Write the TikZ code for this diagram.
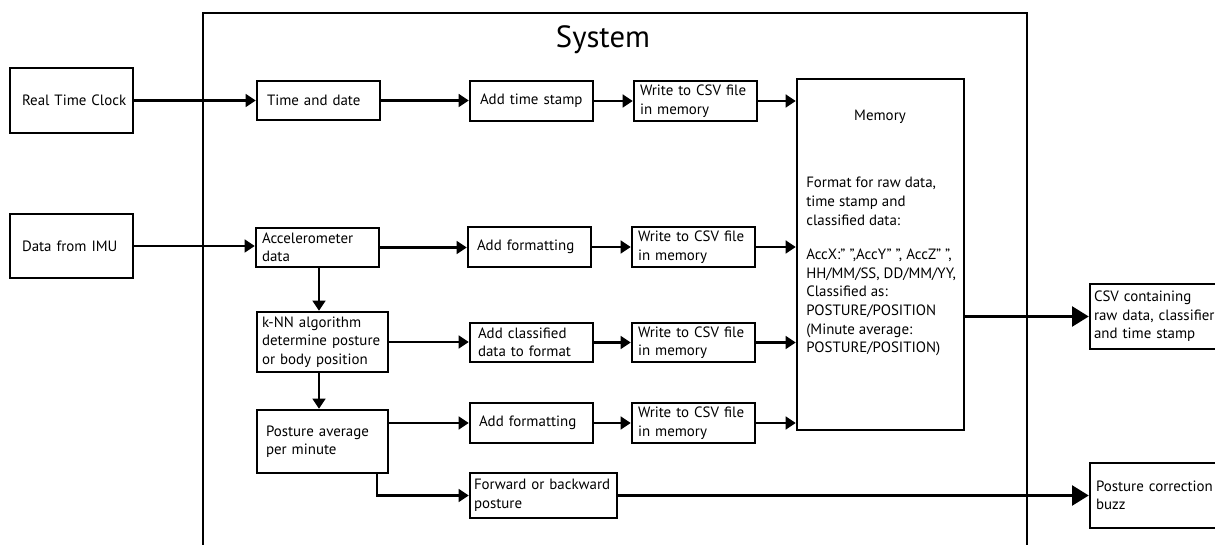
\documentclass[tikz,border=0pt]{standalone}
\usepackage{fontspec}
\setmainfont{PT Sans}
\usetikzlibrary{arrows.meta,calc}
\newcommand\mkbox[7]{%
 \pgfmathsetmacro\bxw{(#4-#2)*0.75}%
 \pgfmathsetmacro\bxh{(#5-#3)*0.75}%
 \pgfmathsetmacro\bxp{#6*0.75}%
 \pgfmathsetmacro\bxt{(#4-#2-2*#6)*0.75}%
 \node[blk,minimum width=\bxw pt,minimum height=\bxh pt,inner xsep=\bxp pt,text width=\bxt pt] (#1) at ({(#2+#4)/2},{(#3+#5)/2}) {#7};}
\begin{document}
\begin{tikzpicture}[x=0.75pt,y=-0.75pt,
 txt/.style={font=\fontsize{11.2}{13.9}\selectfont},
 blk/.style={draw,line width=1.9pt,align=left,inner ysep=0pt,txt},
 conn/.style={line width=1.8pt,-{Triangle[length=7.5pt,width=9.5pt]}},
 bigconn/.style={line width=1.8pt,-{Triangle[length=12.5pt,width=15pt]}},
 frame/.style={line width=1.6pt}]
\useasboundingbox (0,0) rectangle (1215,545);
\clip (0,0) rectangle (1215,545);
% system frame
\draw[frame] (203,600) -- (203,13) -- (1027,13) -- (1027,600);
\node[font=\fontsize{23}{27}\selectfont,anchor=base] (title) at (603,48) {System};
% outside boxes
\mkbox{rtc}{10}{68}{133}{133}{12}{\mbox{Real Time Clock}}
\mkbox{imu}{10}{214}{133}{278}{12}{\mbox{Data from IMU}}
% row 1
\mkbox{td}{257}{81}{380}{120}{10}{Time and date}
\mkbox{ats}{470}{81}{593}{121}{10}{Add time stamp}
\mkbox{w1}{634}{81}{757}{121}{6}{Write to CSV file\\in memory}
% row 2
\mkbox{acc}{256}{228}{379}{267}{6}{Accelerometer\\data}
\mkbox{af1}{468}{227}{591}{267}{9}{Add formatting}
\mkbox{w2}{632}{227}{755}{267}{6}{Write to CSV file\\in memory}
% row 3
\mkbox{knn}{257}{312}{388}{372}{5}{k-NN algorithm\\determine posture\\or body position}
\mkbox{acl}{470}{323}{593}{362}{8}{Add classified\\data to format}
\mkbox{w3}{632}{323}{755}{362}{6}{Write to CSV file\\in memory}
% row 4
\mkbox{pavg}{257}{410}{388}{473}{9}{Posture average\\per minute}
\mkbox{af2}{470}{403}{593}{443}{9}{Add formatting}
\mkbox{w4}{632}{403}{755}{443}{6}{Write to CSV file\\in memory}
% row 5
\mkbox{fwd}{470}{473}{617}{518}{4}{Forward or backward\\posture}
% memory
\node[blk,minimum width=125.25pt,minimum height=263.25pt] (mem) at (880.5,254.5) {};
\node[txt,anchor=base] (memtitle) at (880,121) {Memory};
\node[txt,font=\fontsize{11.2}{14}\selectfont,align=left,anchor=north west,inner sep=0pt] (memfmt) at (806,177)
 {Format for raw data,\\time stamp and\\classified data:\\[11.7pt]
  AccX:” ”,AccY” ”, AccZ” ”,\\HH/MM/SS, DD/MM/YY,\\Classified as:\\POSTURE/POSITION\\(Minute average:\\POSTURE/POSITION)};
% outputs
\mkbox{csv}{1090}{284}{1240}{349}{4}{CSV containing\\raw data, classifier\\and time stamp}
\mkbox{pc}{1090}{463}{1240}{528}{6}{Posture correction\\buzz}
% connectors
\coordinate (vx) at (319,0);
\draw[conn] (rtc.east) -- (rtc.east -| td.west);
\draw[conn] (td.east) -- (td.east -| ats.west);
\draw[conn] (ats.east) -- (ats.east -| w1.west);
\draw[conn] (w1.east) -- (w1.east -| mem.west);
\draw[conn] (imu.east) -- (imu.east -| acc.west);
\draw[conn] (acc.east) -- (acc.east -| af1.west);
\draw[conn] (af1.east) -- (af1.east -| w2.west);
\draw[conn] (w2.east) -- (w2.east -| mem.west);
\draw[conn] (vx |- acc.south) -- (vx |- knn.north);
\draw[conn] (knn.east) -- (knn.east -| acl.west);
\draw[conn] (acl.east) -- (acl.east -| w3.west);
\draw[conn] (w3.east) -- (w3.east -| mem.west);
\draw[conn] (vx |- knn.south) -- (vx |- pavg.north);
\draw[conn] (af2.west -| pavg.east) -- (af2.west);
\draw[conn] (af2.east) -- (af2.east -| w4.west);
\draw[conn] (w4.east) -- (w4.east -| mem.west);
\draw[conn] ($(pavg.south east)+(-12,0)$) |- (fwd.west);
\draw[bigconn] (fwd.east) -- (fwd.east -| pc.west);
\draw[bigconn] (mem.east |- csv.west) -- (csv.west);
\end{tikzpicture}
\end{document}
